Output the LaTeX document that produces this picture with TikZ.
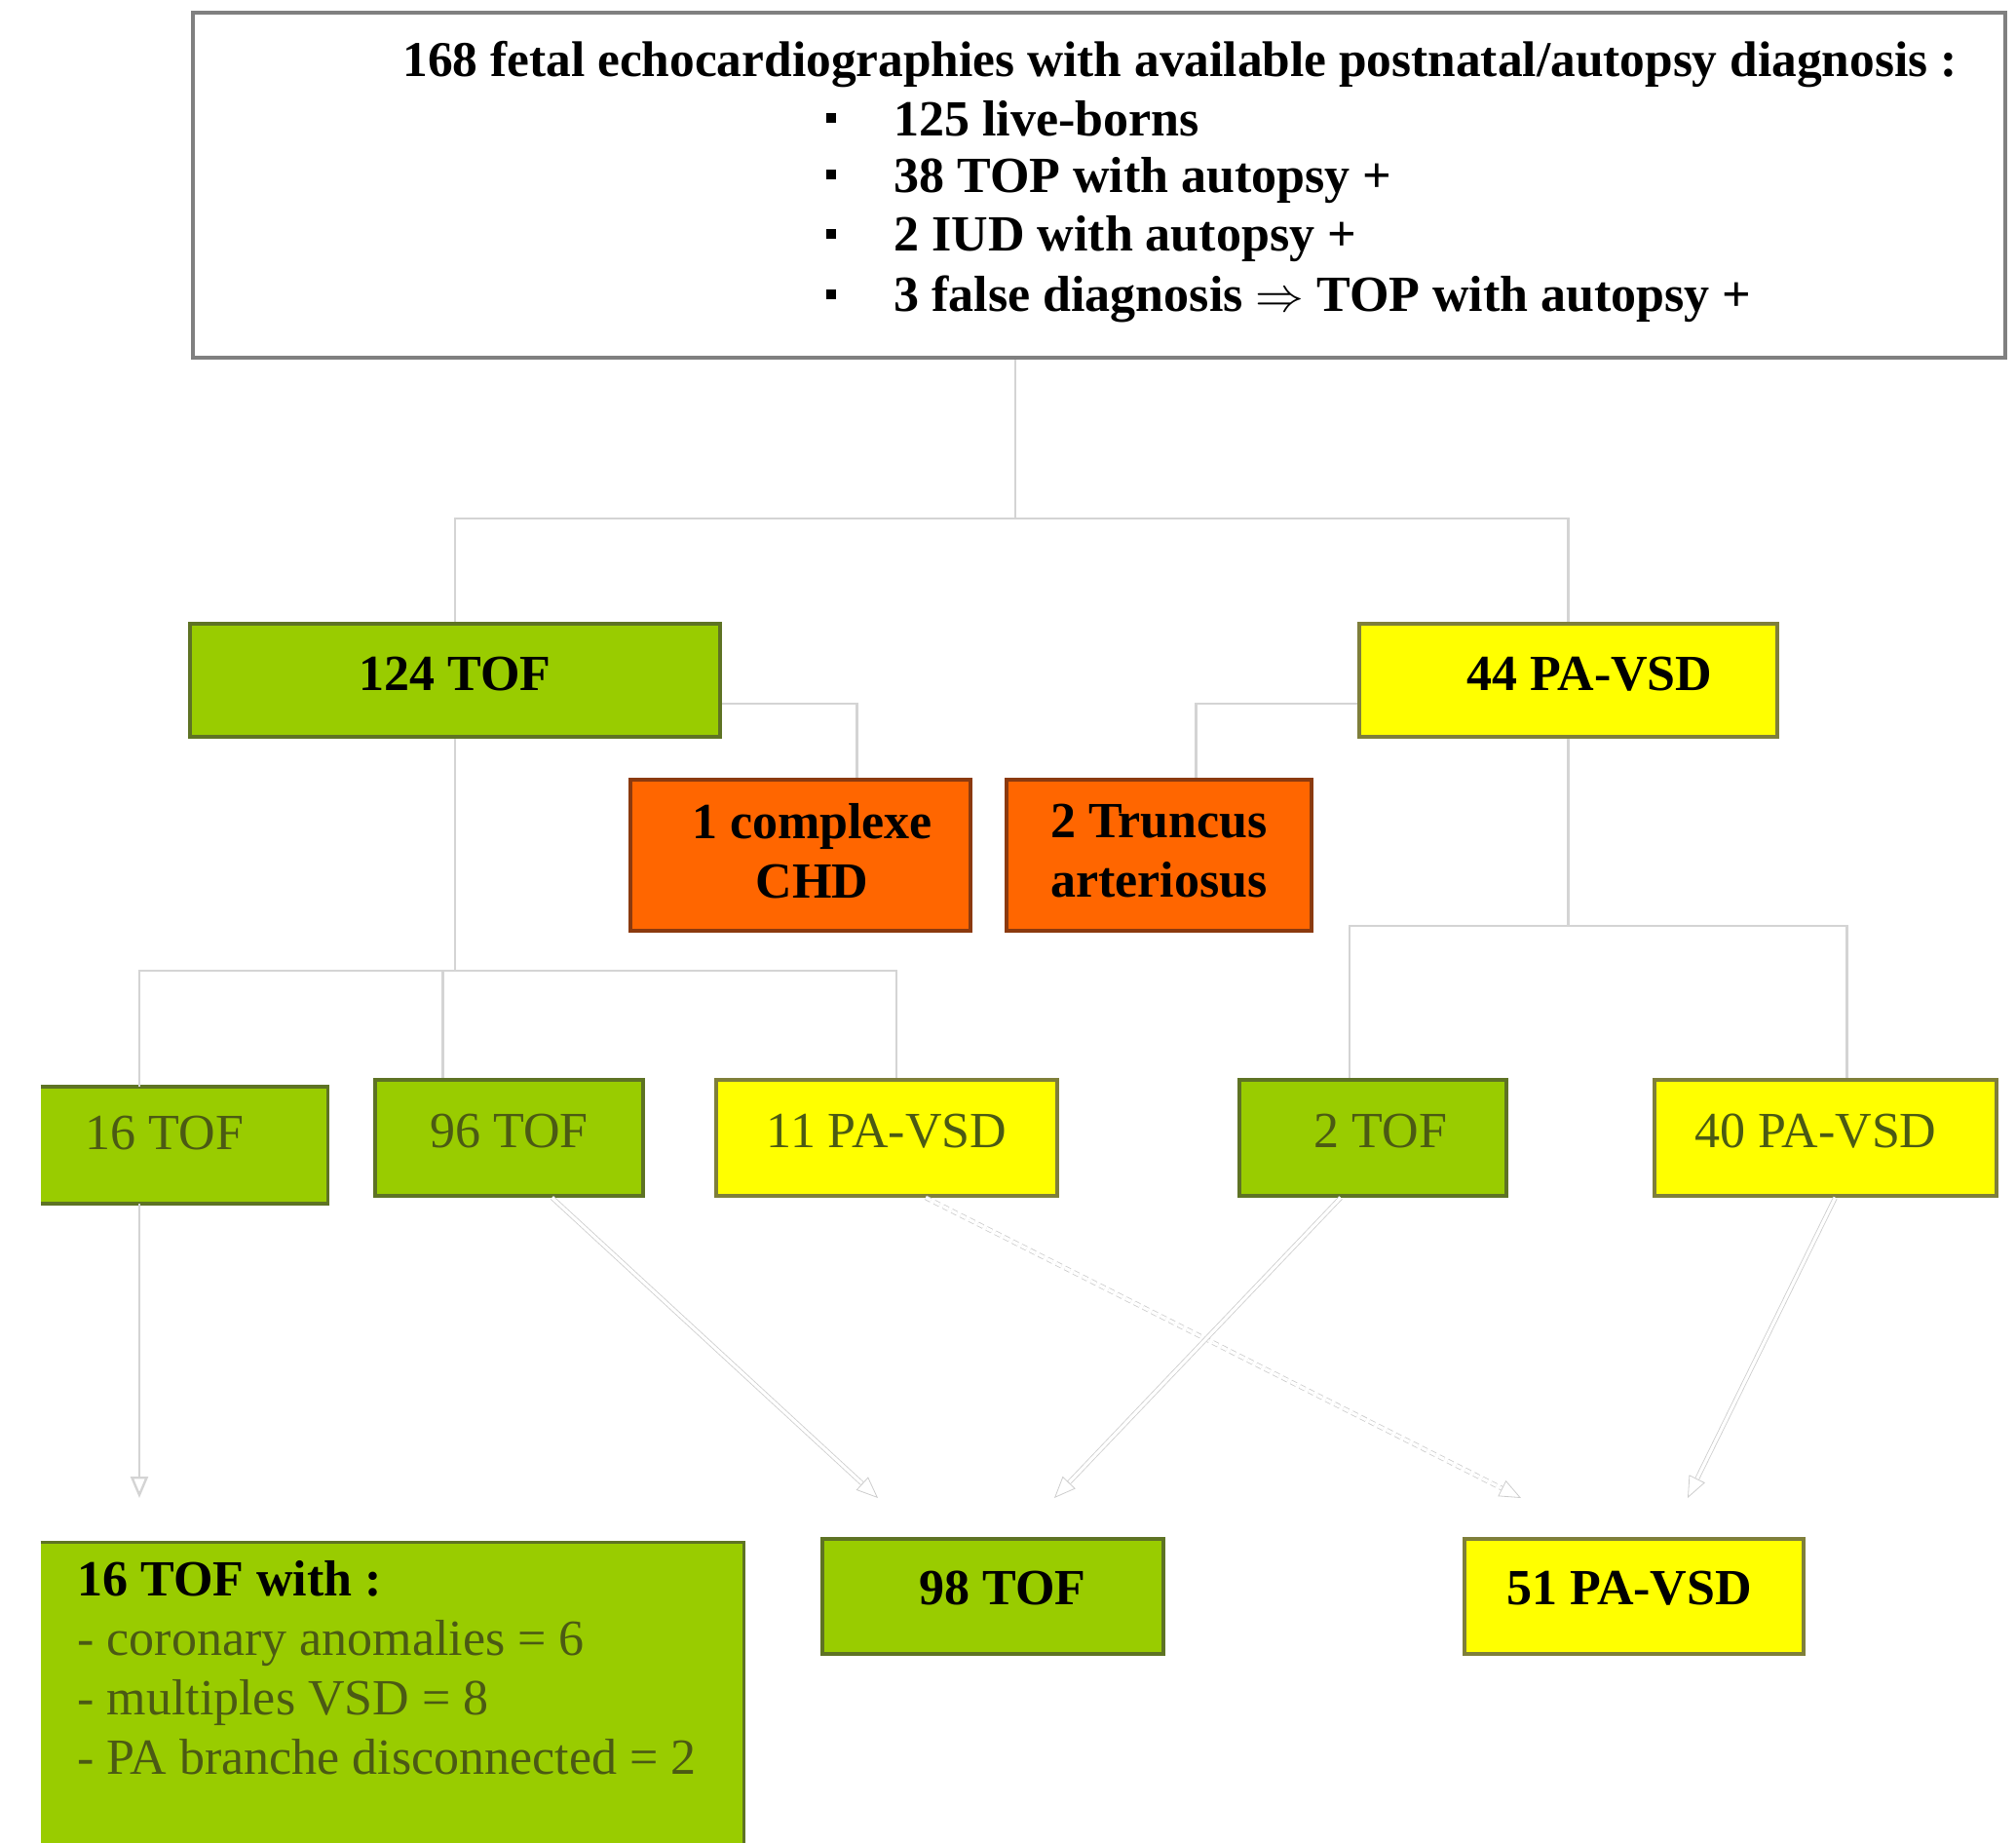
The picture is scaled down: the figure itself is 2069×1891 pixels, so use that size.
\documentclass[tikz,border=0pt]{standalone}
\usepackage{fontspec}
\setmainfont{Liberation Serif}
\usetikzlibrary{arrows.meta,calc}
\definecolor{boxgreen}{HTML}{99CC00}
\definecolor{greenedge}{HTML}{5E7324}
\definecolor{boxyellow}{HTML}{FFFF00}
\definecolor{yellowedge}{HTML}{7F7F3A}
\definecolor{boxorange}{HTML}{FF6600}
\definecolor{orangeedge}{HTML}{8B3A0F}
\definecolor{olivetext}{HTML}{4B5A14}
\definecolor{connline}{HTML}{D4D4D4}
\begin{document}
\begin{tikzpicture}[x=0.5pt,y=-0.5pt,
  every node/.style={font=\fontsize{26pt}{30.5pt}\selectfont, inner sep=0pt},
  basebox/.style={rectangle, line width=1.8pt, align=center},
  greenbox/.style={basebox, fill=boxgreen, draw=greenedge},
  greenfill/.style={rectangle, fill=boxgreen},
  yellowbox/.style={basebox, fill=boxyellow, draw=yellowedge},
  orangebox/.style={basebox, fill=boxorange, draw=orangeedge},
  boldlabel/.style={font=\fontsize{26pt}{30.5pt}\selectfont\bfseries, text=black},
  thinlabel/.style={text=olivetext},
  lab/.style={text height=18pt, text depth=8pt},
  edgeline/.style={draw=greenedge, line width=1.8pt},
  conn/.style={draw=connline, line width=1.2pt},
  arr/.style={draw=gray!40, line width=0.4pt, double=white, double distance=1.6pt, -{Triangle[open,length=11pt,width=9pt]}},
]
\useasboundingbox (0,0) rectangle (2069,1891);

% top box
\node[draw=gray, line width=2pt, fill=white, minimum width=930pt, minimum height=177pt] (top) at (1128,190) {};
\node[boldlabel, font=\fontsize{25.7pt}{30.5pt}\selectfont\bfseries, anchor=base west] (title) at (413,78) {168 fetal echocardiographies with available postnatal/autopsy diagnosis :};
\node (bu1) at (853,121) {\rule{5pt}{5pt}};
\node (bu2) at (853,179) {\rule{5pt}{5pt}};
\node (bu3) at (853,240) {\rule{5pt}{5pt}};
\node (bu4) at (853,302) {\rule{5pt}{5pt}};
\node[boldlabel, anchor=base west] (l1) at (917,139) {125 live-borns};
\node[boldlabel, anchor=base west] (l2) at (917,197) {38 TOP with autopsy +};
\node[boldlabel, anchor=base west] (l3) at (917,257) {2 IUD with autopsy +};
\node[boldlabel, anchor=base west] (l4) at (917,319) {3 false diagnosis $\Rightarrow$ TOP with autopsy +};

% level 2
\node[greenbox, boldlabel, lab, minimum width=272pt, minimum height=58pt] (b124) at (467,698) {124 TOF};
\node[yellowbox, boldlabel, lab, minimum width=214.5pt, minimum height=58pt] (b44) at (1609.5,698) {\hspace*{22pt}44 PA-VSD};
\node[orangebox, boldlabel, text depth=5pt, minimum width=174.5pt, minimum height=77.5pt] (chd) at (821.5,877.5) {\hspace*{12pt}1 complexe\\\hspace*{12pt}CHD};
\node[orangebox, boldlabel, text depth=5pt, minimum width=156.5pt, minimum height=77.5pt] (trunc) at (1189.5,877.5) {2 Truncus\\arteriosus};

% level 3
\node[greenfill, thinlabel, lab, text depth=14pt, minimum width=147pt, minimum height=59.5pt] (b16) at (189,1175) {\hspace*{-20pt}16 TOF};
\node[greenbox, thinlabel, lab, minimum width=137.5pt, minimum height=59.5pt] (b96) at (522.5,1167.5) {96 TOF};
\node[yellowbox, thinlabel, lab, minimum width=175pt, minimum height=59.5pt] (b11) at (910,1167.5) {11 PA-VSD};
\node[greenbox, thinlabel, lab, minimum width=137pt, minimum height=59.5pt] (b2) at (1409,1167.5) {\hspace*{8pt}2 TOF};
\node[yellowbox, thinlabel, lab, minimum width=175.5pt, minimum height=59.5pt] (b40) at (1873.5,1167.5) {\hspace*{-10pt}40 PA-VSD};
\draw[edgeline] (b16.north west) -- (b16.north east) -- (b16.south east) -- (b16.south west);

% level 4
\node[greenfill, minimum width=360.5pt, minimum height=154pt] (bl) at (402.5,1737) {};
\draw[edgeline] (bl.north west) -- (bl.north east) -- (bl.south east);
\node[anchor=north west, align=left, text=olivetext] (bltxt) at (79,1601)
  {\textbf{\textcolor{black}{16 TOF with :}}\\- coronary anomalies = 6\\- multiples VSD = 8\\- PA branche disconnected = 2};
\node[greenbox, boldlabel, lab, text depth=10pt, minimum width=175pt, minimum height=59pt] (b98) at (1019,1638) {\hspace*{10pt}98 TOF};
\node[yellowbox, boldlabel, lab, text depth=10pt, minimum width=174pt, minimum height=59pt] (b51) at (1677,1638) {\hspace*{-5pt}51 PA-VSD};

% elbow connectors
\coordinate (h1) at (1042,532);
\coordinate (topout) at ([xshift=-43pt]top.south);
\draw[conn] (topout) -- (topout |- h1);
\draw[conn] (b124.north) |- (h1) -| (b44.north);

\coordinate (chdin) at ([xshift=29pt]chd.north);
\coordinate (b124out) at ([yshift=-12pt]b124.east);
\draw[conn] (b124out) -| (chdin);
\coordinate (truncin) at ([xshift=19pt]trunc.north);
\coordinate (b44out) at ([yshift=-12pt]b44.west);
\draw[conn] (b44out) -| (truncin);

\coordinate (h2) at (0,996);
\coordinate (in16) at ([xshift=-23pt]b16.north);
\coordinate (in96) at ([xshift=-34pt]b96.north);
\coordinate (in11) at ([xshift=5pt]b11.north);
\draw[conn] (b124.south) -- (b124.south |- h2);
\draw[conn] (in16) |- (in11 |- h2) -- (in11);
\draw[conn] (in96) -- (in96 |- h2);

\coordinate (h3) at (0,950);
\coordinate (in2) at ([xshift=-12pt]b2.north);
\coordinate (in40) at ([xshift=11pt]b40.north);
\draw[conn] (b44.south) -- (b44.south |- h3);
\draw[conn] (in2) |- (in40 |- h3) -- (in40);

% arrows to results
\coordinate (e16) at (143,1537);
\coordinate (e96) at (901,1537);
\coordinate (e11) at (1561,1537);
\coordinate (e2) at (1082,1537);
\coordinate (e40) at (1732,1537);
\draw[conn, -{Triangle[open,length=11pt,width=9pt]}] ([xshift=-23pt]b16.south) -- (e16);
\draw[arr] ([xshift=22pt]b96.south) -- (e96);
\draw[arr, densely dashed] ([xshift=20pt]b11.south) -- (e11);
\draw[arr] ([xshift=-16.5pt]b2.south) -- (e2);
\draw[arr] ([xshift=5pt]b40.south) -- (e40);
\end{tikzpicture}
\end{document}
